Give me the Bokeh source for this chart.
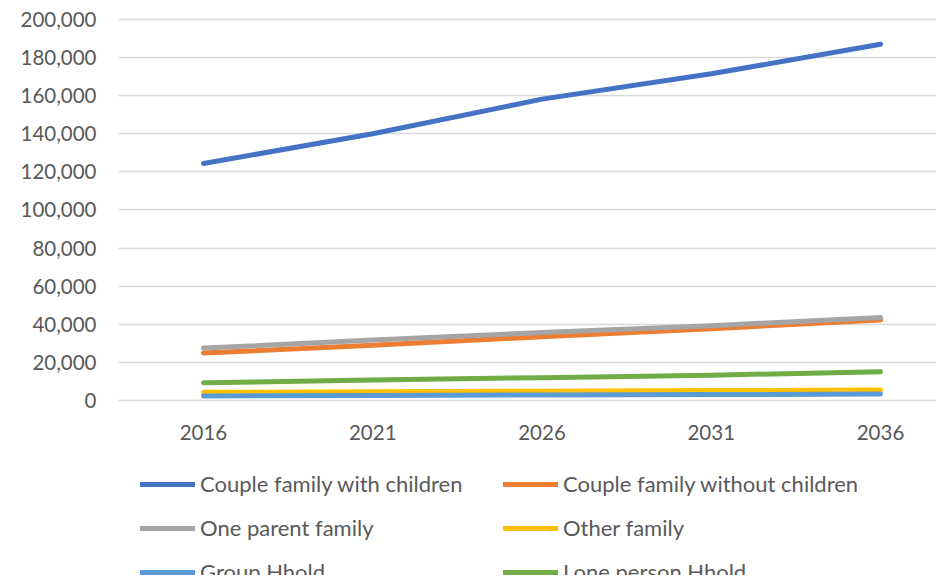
from bokeh.plotting import figure
from bokeh.models import (ColumnDataSource, FixedTicker, NumeralTickFormatter,
                          Legend, LegendItem, Range1d, LabelSet)
from bokeh.core.properties import value
from bokeh.embed import file_html
from bokeh.resources import INLINE

years = [2016, 2021, 2026, 2031, 2036]
year_labels = ["2016", "2021", "2026", "2031", "2036"]

couple_with_children = [124400, 140000, 158200, 171500, 187000]
couple_without_children = [24900, 29000, 33500, 37700, 42300]
one_parent_family = [27500, 31700, 35700, 39300, 43600]
other_family = [4300, 4600, 4900, 5200, 5500]
group_hhold = [2400, 2600, 2900, 3100, 3400]
lone_person_hhold = [9300, 10800, 12000, 13300, 15100]

series_names = ["Couple family with children", "Couple family without children",
                "One parent family", "Other family", "Group Hhold", "Lone person Hhold"]
series_values = [couple_with_children, couple_without_children, one_parent_family,
                 other_family, group_hhold, lone_person_hhold]
series_colors = ["#4472C4", "#ED7D31", "#A5A5A5", "#FFC000", "#5B9BD5", "#70AD47"]

y_ticks = [0, 20000, 40000, 60000, 80000, 100000, 120000, 140000, 160000, 180000, 200000]

FONT = "Lato"
TXT = "#595959"

p = figure(width=936, height=575, output_backend="svg", toolbar_location=None,
           x_range=Range1d(2013.489, 2037.654), y_range=Range1d(-91863, 204724),
           min_border_left=118, min_border_right=0, min_border_top=10,
           min_border_bottom=0)
p.outline_line_color = None
p.background_fill_color = "white"
p.border_fill_color = "white"

renderers = []
for name, vals, col in zip(series_names, series_values, series_colors):
    src = ColumnDataSource(dict(x=years, y=vals))
    r = p.line("x", "y", source=src, line_color=col, line_width=5,
               line_cap="round", line_join="round")
    renderers.append((name, r))

p.xgrid.grid_line_color = None
p.ygrid.grid_line_color = "#D9D9D9"
p.ygrid.grid_line_width = 1.5

p.yaxis.ticker = FixedTicker(ticks=y_ticks)
p.yaxis.formatter = NumeralTickFormatter(format="0,0")
p.yaxis.axis_line_color = None
p.yaxis.major_tick_line_color = None
p.yaxis.minor_tick_line_color = None
p.yaxis.major_tick_out = 0
p.yaxis.major_label_text_font = FONT
p.yaxis.major_label_text_font_size = "20.5px"
p.yaxis.major_label_text_color = TXT
p.yaxis.major_label_standoff = 22
p.xaxis.visible = False
p.xaxis.ticker = FixedTicker(ticks=years)

year_src = ColumnDataSource(dict(x=years, text=year_labels))
p.add_layout(LabelSet(x="x", y=0, text="text", source=year_src, y_offset=-32,
                      text_align="center", text_baseline="middle",
                      text_font=value(FONT), text_font_size=value("20.5px"),
                      text_color=value(TXT)))

legend = Legend(items=[LegendItem(label=n, renderers=[r]) for n, r in renderers],
                orientation="horizontal", ncols=2, location=(22, -10),
                glyph_width=55, glyph_height=22, label_height=22, label_width=286,
                label_standoff=5, spacing=17, margin=0, padding=0,
                label_text_font=FONT, label_text_font_size="22px",
                label_text_color=TXT, border_line_color=None,
                background_fill_alpha=0)
p.add_layout(legend, "center")

open("out.html", "w").write(file_html(p, INLINE))
